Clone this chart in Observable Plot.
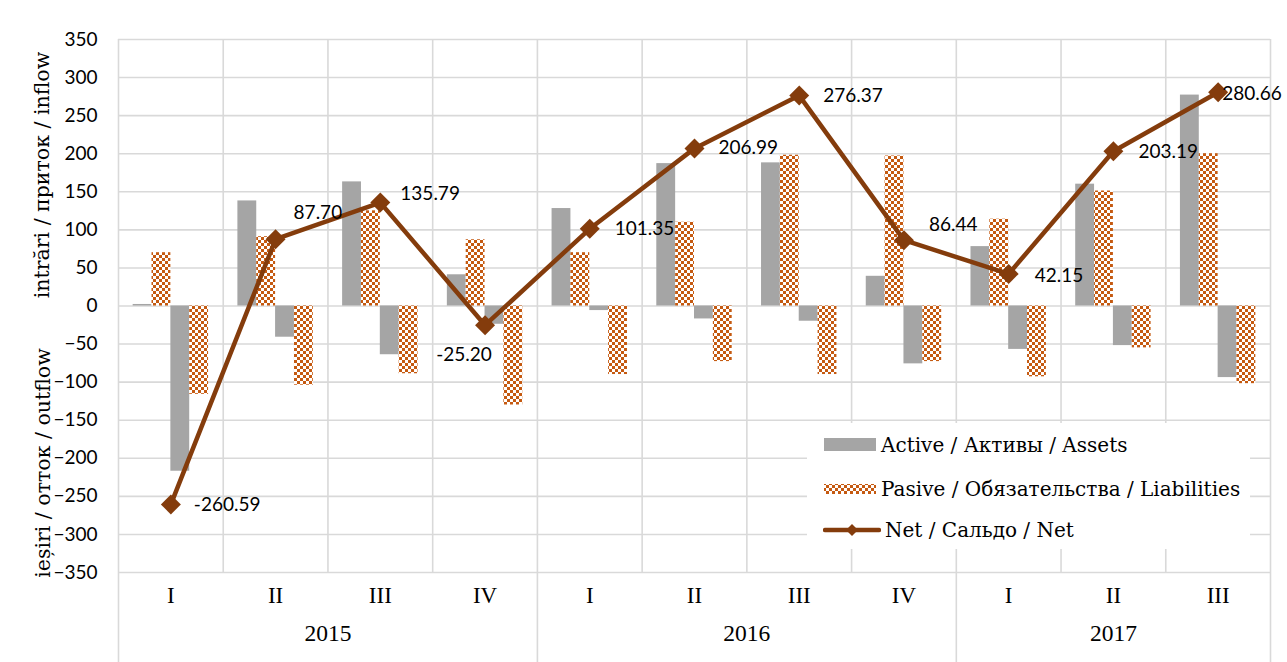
<!DOCTYPE html>
<html><head><meta charset="utf-8">
<script src="https://cdn.jsdelivr.net/npm/d3@7"></script>
<script src="https://cdn.jsdelivr.net/npm/@observablehq/plot@0.6"></script>
<style>
body{margin:0;background:#fff;}
#wrap{position:relative;width:1287px;height:662px;overflow:hidden;background:#fff;}
#frame{position:absolute;left:8px;top:3px;width:1320px;height:720px;border:2px solid #d9d9d9;box-sizing:border-box;}
#chart{position:absolute;left:0;top:0;}
.ytitle{position:absolute;font-family:"DejaVu Serif",serif;font-size:20.5px;color:#000;white-space:nowrap;transform:translate(-50%,-50%) rotate(-90deg);}
#legend{position:absolute;left:807px;top:423px;width:443px;height:126px;background:#fff;font-family:"DejaVu Serif",serif;font-size:20px;color:#000;}
.item{position:absolute;left:16px;height:24px;display:flex;align-items:center;white-space:nowrap;}
.item svg{margin-right:4px;}
</style></head>
<body>
<div id="wrap">
  <div id="frame"></div>
  <div id="chart"></div>
  <div class="ytitle" style="left:42px;top:175px;">intrări / приток / inflow</div>
  <div class="ytitle" style="left:43px;top:463px;">ieșiri / отток / outflow</div>
  <div id="legend"></div>
</div>
<script>
// ---- data ----
const years = ["2015","2015","2015","2015","2016","2016","2016","2016","2017","2017","2017"];
const quarters = ["I","II","III","IV","I","II","III","IV","I","II","III"];
const assetsIn  = [2, 138, 163, 41, 128, 187, 188, 39, 78, 160, 277];
const liabIn    = [70, 91, 125, 87, 70, 110, 198, 197, 114, 151, 200];
const assetsOut = [-217, -41, -64, -24, -6, -17, -20, -76, -57, -52, -94];
const liabOut   = [-116, -104, -89, -130, -90, -73, -90, -73, -93, -55, -102];
const net = [-260.59, 87.70, 135.79, -25.20, 101.35, 206.99, 276.37, 86.44, 42.15, 203.19, 280.66];
const yTicks = [-350,-300,-250,-200,-150,-100,-50,0,50,100,150,200,250,300,350];
const seriesNames = ["Active / Активы / Assets", "Pasive / Обязательства / Liabilities", "Net / Сальдо / Net"];

// ---- styles ----
const GRAY = "#A5A5A5", ORANGE = "#C55A11", BROWN = "#843C0C", GRID = "#d9d9d9";
const W = 1287, H = 662, ML = 118, MR = 17, MT = 39, MB = 90;
const n = quarters.length;
const bw = (W - ML - MR) / n;
const barW = bw * 0.18;
const pad = (bw - 4 * barW) / 2;
// label placement per point: [dx, dy, anchor]
const labelPlacement = [[23,0,"start"],[18,-26,"start"],[20,-9,"start"],[-21,30,"middle"],[25,0,"start"],[24,0,"start"],[24,0,"start"],[25,-15,"start"],[26,2,"start"],[25,1,"start"],[4,2,"start"]];

const table = quarters.map((q, i) => ({
  key: years[i] + " " + q, year: years[i], quarter: q,
  assetsIn: assetsIn[i], liabIn: liabIn[i], assetsOut: assetsOut[i], liabOut: liabOut[i],
  net: net[i], label: net[i].toFixed(2), i
}));
const keys = table.map(d => d.key);

function barMark(field, fill, k) {
  return Plot.barY(table, {x: "key", y: field, fill, insetLeft: pad + k * barW, insetRight: bw - pad - (k + 1) * barW});
}

const labelMarks = labelPlacement.map((p, i) =>
  Plot.text([table[i]], {x: "key", y: "net", text: "label", dx: p[0], dy: p[1], textAnchor: p[2],
    fontSize: 19, fill: "#000", fontFamily: "Lato, sans-serif"}));

const uniqueYears = [...new Set(years)];
const yearMarks = uniqueYears.map(y => {
  const rows = table.filter(d => d.year === y);
  return Plot.text([rows[0]], {x: "key", text: "year", frameAnchor: "bottom", dy: 68, dx: (rows.length - 1) / 2 * bw,
    fontSize: 23.5, fontFamily: "Liberation Serif, serif", fill: "#000"});
});
const yearStarts = uniqueYears.map(y => table.find(d => d.year === y));
const frameH = H - MT - MB;

const chart = Plot.plot({
  width: W, height: H, marginLeft: ML, marginRight: MR, marginTop: MT, marginBottom: MB,
  style: {fontFamily: "Lato, sans-serif", fontSize: "19px", color: "#000", background: "#fff"},
  x: {type: "band", domain: keys, paddingInner: 0, paddingOuter: 0, round: false, axis: null},
  y: {domain: [-350, 350], axis: null},
  marks: [
    Plot.ruleY(yTicks, {stroke: GRID, strokeWidth: 1.6}),
    Plot.ruleX(table, {x: "key", dx: -bw / 2, stroke: GRID, strokeWidth: 1.6}),
    Plot.ruleX([table[n - 1]], {x: "key", dx: bw / 2, stroke: GRID, strokeWidth: 1.6}),
    Plot.ruleX(yearStarts, {x: "key", dx: -bw / 2, stroke: GRID, strokeWidth: 1.6, insetTop: frameH, insetBottom: -MB}),
    Plot.ruleX([table[n - 1]], {x: "key", dx: bw / 2, stroke: GRID, strokeWidth: 1.6, insetTop: frameH, insetBottom: -MB}),
    Plot.axisY({ticks: yTicks, tickSize: 0, tickPadding: 21, fontSize: 19, fontFamily: "Lato, sans-serif", fill: "#000"}),
    barMark("assetsIn", GRAY, 0),
    barMark("liabIn", "url(#checker)", 1),
    barMark("assetsOut", GRAY, 2),
    barMark("liabOut", "url(#checker)", 3),
    Plot.line(table, {x: "key", y: "net", stroke: BROWN, strokeWidth: 4.5, strokeLinejoin: "round"}),
    Plot.dot(table, {x: "key", y: "net", symbol: "diamond2", r: 9, fill: BROWN, stroke: "none"}),
    ...labelMarks,
    Plot.text(table, {x: "key", text: "quarter", frameAnchor: "bottom", dy: 30, fontSize: 23, fontFamily: "Liberation Serif, serif", fill: "#000"}),
    ...yearMarks
  ]
});

// checker pattern
const defs = d3.select(chart).insert("defs", ":first-child");
const pat = defs.append("pattern").attr("id", "checker").attr("patternUnits", "userSpaceOnUse").attr("width", 6).attr("height", 6);
pat.append("rect").attr("width", 6).attr("height", 6).attr("fill", "#fff");
pat.append("rect").attr("width", 3).attr("height", 3).attr("fill", ORANGE);
pat.append("rect").attr("x", 3).attr("y", 3).attr("width", 3).attr("height", 3).attr("fill", ORANGE);
document.getElementById("chart").appendChild(chart);

// legend
const legend = document.getElementById("legend");
const swatches = [
  `<svg width="54" height="14"><rect x="1" y="0" width="52" height="13" fill="${GRAY}"/></svg>`,
  `<svg width="54" height="14"><defs><pattern id="checkerL" patternUnits="userSpaceOnUse" width="6" height="6"><rect width="6" height="6" fill="#fff"/><rect width="3" height="3" fill="${ORANGE}"/><rect x="3" y="3" width="3" height="3" fill="${ORANGE}"/></pattern></defs><rect x="1" y="2" width="52" height="10" fill="url(#checkerL)"/></svg>`,
  `<svg width="58" height="16"><line x1="2" y1="8" x2="56" y2="8" stroke="${BROWN}" stroke-width="4.5" stroke-linecap="round"/><path d="M29,2 L35,8 L29,14 L23,8Z" fill="${BROWN}"/></svg>`
];
const tops = [10, 54, 95];
seriesNames.forEach((name, i) => {
  const div = document.createElement("div");
  div.className = "item";
  div.style.top = tops[i] + "px";
  div.innerHTML = swatches[i] + `<span>${name}</span>`;
  legend.appendChild(div);
});
</script>
</body></html>
